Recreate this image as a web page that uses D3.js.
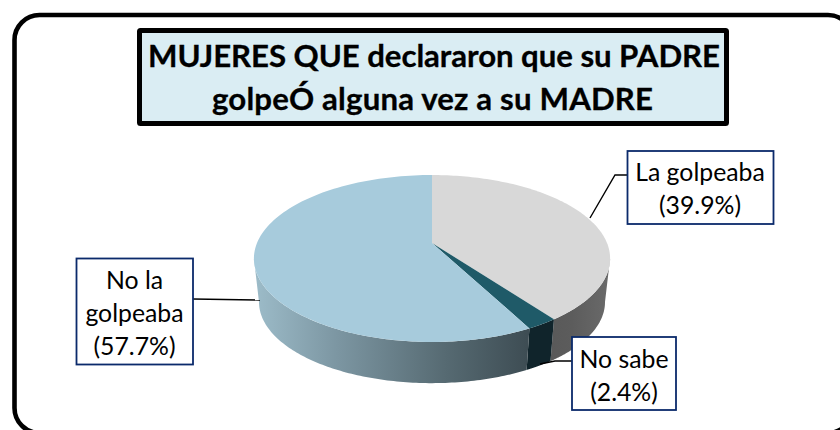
<!DOCTYPE html>
<html><head><meta charset="utf-8">
<script src="https://cdn.jsdelivr.net/npm/d3@7/dist/d3.min.js"></script>
<style>html,body{margin:0;padding:0;background:#fff;overflow:hidden}svg{display:block}text{font-family:Lato,"Open Sans",sans-serif;fill:#000}</style>
</head><body><svg id="c" width="840" height="430"></svg>
<script>
const categories = ["La golpeaba", "No sabe", "No la golpeaba"];
const values = [39.9, 2.4, 57.7];
const labelLines = [["La golpeaba", "(39.9%)"], ["No sabe", "(2.4%)"], ["No la", "golpeaba", "(57.7%)"]];
const titleLines = ["MUJERES QUE declararon que su PADRE", "golpeÓ alguna vez a su MADRE"];
const topColors = ["#d8d8d8", "#1f5a68", "#a7cbdc"];

const svg = d3.select("#c");
const defs = svg.append("defs");
const sideFill = (id, stops, x1, x2) => {
  const g = defs.append("linearGradient").attr("id", id).attr("gradientUnits", "userSpaceOnUse")
    .attr("x1", x1).attr("x2", x2).attr("y1", 0).attr("y2", 0);
  stops.forEach(([o, c]) => g.append("stop").attr("offset", o).attr("stop-color", c));
  return `url(#${id})`;
};
const sideFills = [
  sideFill("s0", [[0, "#565656"], [0.55, "#5c5c5c"], [1, "#6a6a6a"]], 525, 610),
  "#10242b",
  sideFill("s2", [[0, "#9cbbc8"], [0.3, "#7c96a2"], [0.7, "#566a72"], [1, "#3e4d54"]], 256, 527)
];

// Perspective projection of the tilted disc
const cx = 432, persp = 0.1856, tilt = 80.6;
const project = (angle, radius, apexY) => {
  const X = Math.sin(angle), Y = -Math.cos(angle), s = 1 / (1 - persp * Y);
  return [cx + radius * X * s, apexY + tilt * (radius / 175) * Y * s];
};
const topRim = a => project(a, 175, 243);
const botRim = a => project(a, 170, 287);
const pie = d3.pie().sort(null).startAngle(0).endAngle(2 * Math.PI);
const arcs = pie(values);
const line = d3.line();
const sweepRange = (a0, a1) => d3.range(0, 121).map(i => a0 + (a1 - a0) * i / 120);
const sweep = d => sweepRange(d.startAngle, d.endAngle);
// the side wall is visible only between the two silhouette angles of the disc
const silR = Math.acos(-persp), silL = 2 * Math.PI - silR;
const wall = d => sweepRange(Math.max(d.startAngle, silR), Math.min(d.endAngle, silL));

// white page + outer frame
svg.append("rect").attr("x", 14.5).attr("y", 15).attr("width", 838.5).attr("height", 418)
  .attr("rx", 25).attr("fill", "#fff").attr("stroke", "#000").attr("stroke-width", 4.6);

// title
svg.append("rect").attr("x", 139.5).attr("y", 30.5).attr("width", 587).attr("height", 93)
  .attr("rx", 1).attr("fill", "#daedf3").attr("stroke", "#000").attr("stroke-width", 5);
const titleFit = [{x: 434, len: 572}, {x: 432.5, len: 441}];
svg.selectAll(".t").data(titleLines).join("text").attr("class", "t")
  .attr("x", (d, i) => titleFit[i].x).attr("y", (d, i) => 67 + i * 43).attr("text-anchor", "middle")
  .attr("textLength", (d, i) => titleFit[i].len).attr("lengthAdjust", "spacing")
  .attr("font-size", 31.2).attr("font-weight", 700).attr("stroke", "#000").attr("stroke-width", 0.3).text(d => d);

// pie sides
svg.selectAll(".side").data(arcs).join("path").attr("class", "side")
  .attr("fill", (d, i) => sideFills[i])
  .attr("d", d => { const a = wall(d); return line([...a.map(topRim), ...a.slice().reverse().map(botRim)]) + "Z"; });
// pie top
svg.selectAll(".top").data(arcs).join("path").attr("class", "top")
  .attr("fill", (d, i) => topColors[i])
  .attr("d", d => line([[cx, 243], ...sweep(d).map(topRim)]) + "Z");

// leaders
const leaders = [[[590, 218], [615, 175], [627, 175]], [[540, 364], [555, 361], [572, 361]], [[193, 299], [260, 300]]];
svg.selectAll(".lead").data(leaders).join("path").attr("class", "lead")
  .attr("fill", "none").attr("stroke", "#000").attr("stroke-width", 1.4).attr("d", d => line(d));

// labels
const boxes = [
  {x: 627.5, y: 151, w: 146, h: 73, cx: 700, base: [181, 214]},
  {x: 572, y: 337, w: 104, h: 73, cx: 624, base: [368, 401]},
  {x: 76.5, y: 258.5, w: 116.5, h: 106, cx: 134.5, base: [289, 322, 355]}
];
boxes.forEach((b, i) => {
  svg.append("rect").attr("x", b.x).attr("y", b.y).attr("width", b.w).attr("height", b.h)
    .attr("fill", "#fff").attr("stroke", "#0b2a6b").attr("stroke-width", 1.8);
  labelLines[i].forEach((l, j) => svg.append("text").attr("x", b.cx).attr("y", b.base[j])
    .attr("text-anchor", "middle").attr("font-size", 24.8).text(l));
});
</script></body></html>
